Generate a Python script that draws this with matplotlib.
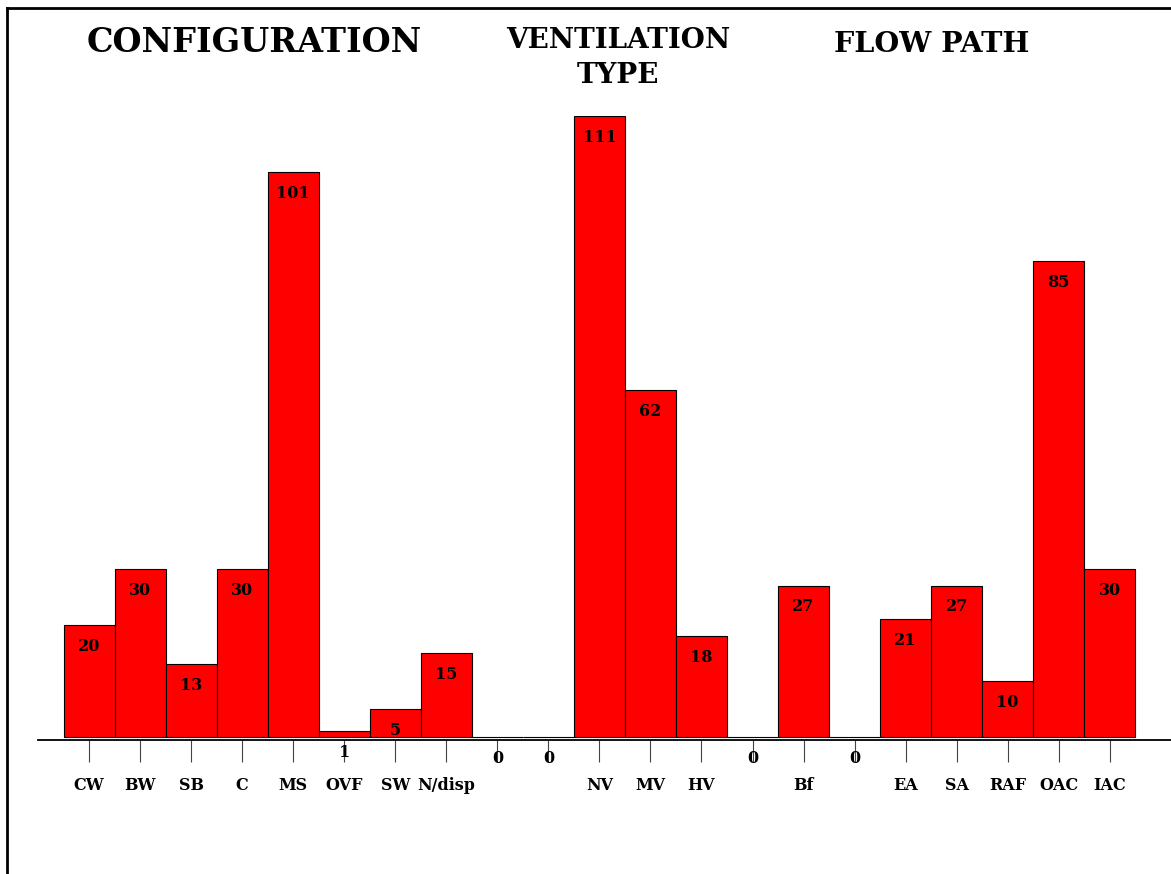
import numpy as np
import matplotlib.pyplot as plt
from matplotlib.lines import Line2D

labels = ['CW', 'BW', 'SB', 'C', 'MS', 'OVF', 'SW', 'N/disp', '', '',
          'NV', 'MV', 'HV', '', 'Bf', '', 'EA', 'SA', 'RAF', 'OAC', 'IAC']
values = [20, 30, 13, 30, 101, 1, 5, 15, 0, 0,
          111, 62, 18, 0, 27, 0, 21, 27, 10, 85, 30]
groups = ['CONFIGURATION', 'VENTILATION\nTYPE', 'FLOW PATH']

plt.rcParams['font.family'] = 'DejaVu Serif'
plt.rcParams['font.weight'] = 'bold'

W, H = 1171, 874
fig = plt.figure(figsize=(W / 100, H / 100), dpi=100)
# axes placed in pixel terms: x 38..1171, y 740 (bottom) .. 116 (top)
ax = fig.add_axes([38 / W, 1 - 740 / H, (W - 38) / W, (740 - 116) / H])

x = np.arange(len(values))
ax.bar(x, values, width=1.0, color='#ff0000', edgecolor='black', linewidth=0.8)
ax.set_xlim(-1.0, 21.2)
ax.set_ylim(-0.55, 111)

for xi, v in zip(x, values):
    ax.annotate(str(v), (xi, v), xytext=(0, -15.2), textcoords='offset points',
                ha='center', va='center', fontsize=11.5, fontweight='bold')

ax.set_xticks(x)
ax.set_xticklabels(labels, fontsize=11.5, fontweight='bold')
ax.tick_params(axis='x', length=16, width=0.8, color='#444444', pad=11, direction='out')
ax.set_yticks([])
for s in ['left', 'right', 'top']:
    ax.spines[s].set_visible(False)
ax.spines['bottom'].set_linewidth(1.3)

fig.text(254 / W, 1 - 43 / H, groups[0], ha='center', va='center', fontsize=24, fontweight='bold')
fig.text(618 / W, 1 - 58 / H, groups[1], ha='center', va='center', fontsize=20,
         fontweight='bold', linespacing=1.35)
fig.text(932 / W, 1 - 44 / H, groups[2], ha='center', va='center', fontsize=20.5, fontweight='bold')

# outer frame (left and top edges visible)
fig.add_artist(Line2D([7 / W, 7 / W], [0, 1 - 8 / H], color='black', lw=2))
fig.add_artist(Line2D([7 / W, 1], [1 - 8 / H, 1 - 8 / H], color='black', lw=2))

fig.savefig('out.png', dpi=100)
